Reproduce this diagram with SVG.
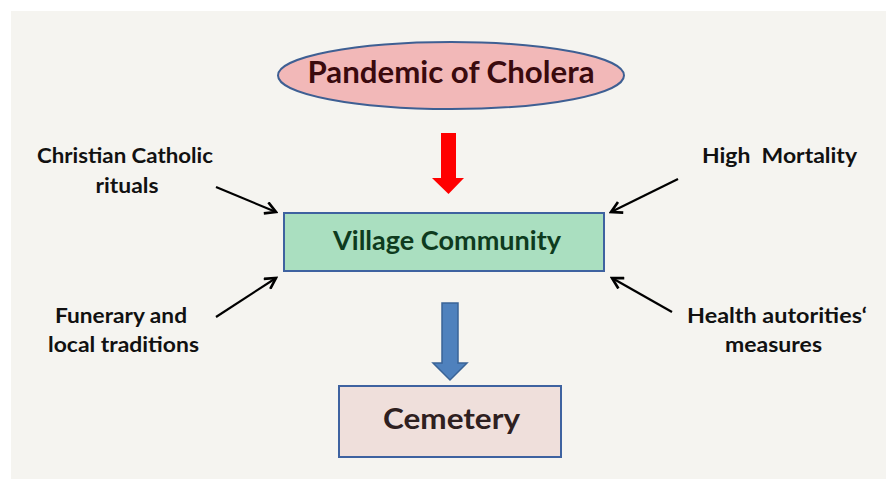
<svg xmlns="http://www.w3.org/2000/svg" width="886" height="479" viewBox="0 0 886 479">
<style>
  text { font-family: Lato, "Open Sans", "Liberation Sans", sans-serif; font-weight: bold; }
  .lbl { font-size: 20px; fill: #111111; text-anchor: middle; }
  .conn { stroke: #000000; stroke-width: 2.2; fill: none; marker-end: url(#ah); }
</style>
<defs>
  <marker id="ah" viewBox="0 0 12 12" refX="10" refY="6" markerWidth="6.5" markerHeight="6.5" markerUnits="strokeWidth" orient="auto">
    <path d="M1,1 L10,6 L1,11" fill="none" stroke="#000" stroke-width="2.2"/>
  </marker>
</defs>
<rect x="0" y="0" width="886" height="479" fill="#ffffff"/>
<rect x="11" y="11" width="875" height="468" fill="#f5f4f0"/>

<g id="pandemic">
  <ellipse cx="451" cy="75.5" rx="173" ry="33.5" fill="#f2b8b8" stroke="#3e5f93" stroke-width="2"/>
  <text x="451" y="83" font-size="30" fill="#3a0a0e" text-anchor="middle" textLength="287" lengthAdjust="spacingAndGlyphs">Pandemic of Cholera</text>
</g>

<g id="village">
  <rect x="284" y="213" width="320" height="58" fill="#aadfc0" stroke="#3e62a0" stroke-width="2"/>
  <text x="447" y="250" font-size="26" fill="#0e3b1e" text-anchor="middle" textLength="228" lengthAdjust="spacingAndGlyphs">Village Community</text>
</g>

<g id="cemetery">
  <rect x="339" y="386" width="222" height="71" fill="#efdfdb" stroke="#3e62a0" stroke-width="2"/>
  <text x="451.5" y="429" font-size="29" fill="#2e2020" text-anchor="middle" textLength="137" lengthAdjust="spacingAndGlyphs">Cemetery</text>
</g>

<g id="christian">
  <text class="lbl" x="125" y="163" textLength="176" lengthAdjust="spacingAndGlyphs">Christian Catholic</text>
  <text class="lbl" x="127" y="193" textLength="63" lengthAdjust="spacingAndGlyphs">rituals</text>
</g>

<g id="funerary">
  <text class="lbl" x="121" y="323" textLength="132" lengthAdjust="spacingAndGlyphs">Funerary and</text>
  <text class="lbl" x="123.5" y="352" textLength="151" lengthAdjust="spacingAndGlyphs">local traditions</text>
</g>

<g id="mortality">
  <text class="lbl" x="779.5" y="163" textLength="155" lengthAdjust="spacingAndGlyphs" xml:space="preserve">High  Mortality</text>
</g>

<g id="health">
  <text class="lbl" x="777" y="323" textLength="180" lengthAdjust="spacingAndGlyphs">Health autorities‘</text>
  <text class="lbl" x="773.5" y="352" textLength="97" lengthAdjust="spacingAndGlyphs">measures</text>
</g>

<g id="connectors">
  <path d="M441,133 H456 V178 H464 L448.5,194 L432,178 H441 Z" fill="#ff0000"/>
  <path d="M442,303 H458 V363 H467 L450,380 L433,363 H442 Z" fill="#4f81bd" stroke="#3a6396" stroke-width="1.5"/>
  <line class="conn" x1="216" y1="187" x2="276" y2="212"/>
  <line class="conn" x1="216" y1="317" x2="276" y2="278"/>
  <line class="conn" x1="678" y1="179" x2="611" y2="212"/>
  <line class="conn" x1="672" y1="312" x2="612" y2="278"/>
</g>
</svg>
